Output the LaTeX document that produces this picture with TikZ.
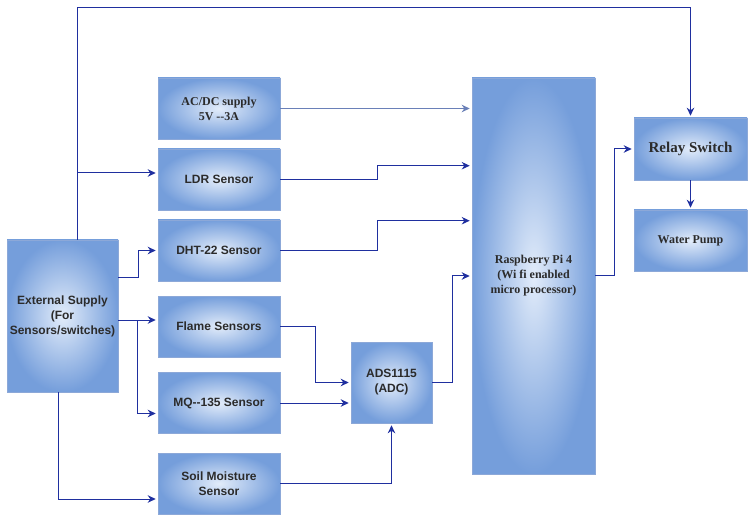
\documentclass[tikz,border=0pt]{standalone}
\usepackage{fontspec}
\setmainfont{Liberation Serif}
\setsansfont{Liberation Sans}
\usetikzlibrary{arrows.meta}
\definecolor{linec}{HTML}{1F2F9F}
\definecolor{lightline}{HTML}{6A80B8}
\definecolor{fillin}{HTML}{E2ECFA}
\definecolor{fillout}{HTML}{759EDB}
\definecolor{boxedge}{HTML}{8CA8D8}
\definecolor{txt}{HTML}{2B2B2B}
\tikzset{
  blk/.style={draw=boxedge, line width=0.6pt, shading=radial, inner color=fillin, outer color=fillout,
    inner sep=2pt, align=center, text=txt},
  sanst/.style={font=\sffamily\bfseries\fontsize{12}{15}\selectfont},
  serift/.style={font=\rmfamily\bfseries\fontsize{12}{15}\selectfont},
  conn/.style={draw=linec, line width=1pt},
  arr/.style={conn, -{Stealth[length=8pt,width=7.5pt]}, shorten >=2pt},
}
\begin{document}
\begin{tikzpicture}[x=1pt,y=-1pt]
\useasboundingbox (0,0) rectangle (748,516);
\fill[white] (0,0) rectangle (748,516);
% blocks
\node[blk,sanst,minimum width=111pt,minimum height=152pt] (ext) at (62.5,316) {External Supply\\(For\\Sensors/switches)};
\node[blk,serift,minimum width=122pt,minimum height=61pt] (acdc) at (219,108.5) {AC/DC supply\\5V -{}-3A};
\node[blk,sanst,minimum width=122pt,minimum height=61pt] (ldr) at (219,179.5) {LDR Sensor};
\node[blk,sanst,minimum width=122pt,minimum height=61pt] (dht) at (219,250.5) {DHT-22 Sensor};
\node[blk,sanst,minimum width=122pt,minimum height=61pt] (flame) at (219,326.5) {Flame Sensors};
\node[blk,sanst,minimum width=122pt,minimum height=61pt] (mq) at (219,403) {MQ-{}-135 Sensor};
\node[blk,sanst,minimum width=122pt,minimum height=61pt] (soil) at (219,483.5) {Soil Moisture\\Sensor};
\node[blk,sanst,minimum width=81pt,minimum height=81pt] (ads) at (391.5,382.5) {ADS1115\\(ADC)};
\node[blk,serift,minimum width=123pt,minimum height=396pt] (pi) at (533.5,276) {Raspberry Pi 4\\(Wi fi enabled\\micro processor)};
\node[blk,font=\rmfamily\bfseries\fontsize{15}{18}\selectfont,minimum width=113pt,minimum height=62pt] (relay) at (690.5,149) {Relay Switch};
\node[blk,serift,minimum width=113pt,minimum height=61pt] (pump) at (690.5,240.5) {Water Pump};
% helper coordinates
\coordinate (tapldr) at (77,173);
\coordinate (j) at (137,320);
% connectors from external supply
\draw[arr] ([xshift=14.5]ext.north) -- ++(0,-232) -| (relay.north);
\draw[arr] (tapldr) -- (tapldr -| ldr.west);
\draw[arr] ([yshift=38]ext.east) -- ++(20,0) |- (dht.west);
\draw[arr] (ext.east |- j) -- (j -| flame.west);
\draw[arr] (j) |- ([yshift=-10.5]mq.west);
\draw[arr] ([xshift=-4.5]ext.south) |- ([yshift=-15.5]soil.west);
% sensors to Pi / ADC
\draw[arr, draw=lightline] (acdc.east) -- (acdc.east -| pi.west);
\draw[arr] (ldr.east) -- ++(97,0) |- ([yshift=-88]pi.north west);
\draw[arr] (dht.east) -- ++(97,0) |- ([yshift=-143]pi.north west);
\draw[arr] (flame.east) -- ++(35,0) |- (ads.west);
\draw[arr] (mq.east) -- (mq.east -| ads.west);
\draw[arr] (soil.east) -| (ads.south);
\draw[arr] (ads.east) -- ++(20,0) |- (pi.west);
% Pi to relay to pump
\draw[arr] (pi.east) -- ++(19,0) |- (relay.west);
\draw[arr] (relay.south) -- (pump.north);
\end{tikzpicture}
\end{document}
